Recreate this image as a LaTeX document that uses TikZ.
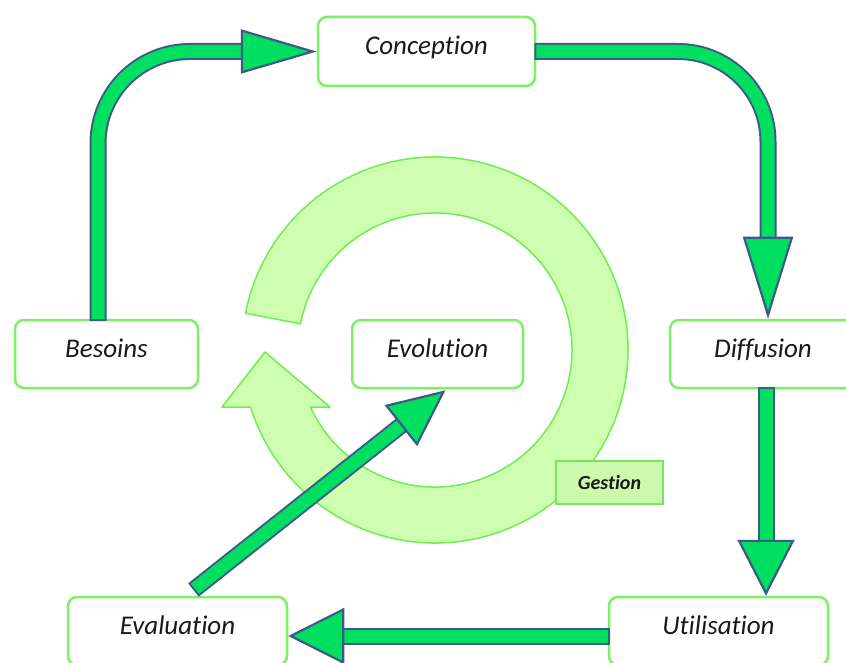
\documentclass[tikz,border=0pt]{standalone}
\usepackage{fontspec}
\setmainfont{Carlito}[Ligatures=NoCommon]
\usetikzlibrary{arrows.meta,calc}
\definecolor{arrowgreen}{RGB}{0,224,96}
\definecolor{arrowedge}{RGB}{62,90,138}
\definecolor{boxedge}{RGB}{125,240,100}
\definecolor{ringfill}{RGB}{206,255,176}
\definecolor{ringedge}{RGB}{110,238,80}
\definecolor{gestfill}{RGB}{204,250,172}
\definecolor{gestedge}{RGB}{120,228,100}
\definecolor{txt}{RGB}{25,25,25}
\begin{document}
\begin{tikzpicture}[x=1pt,y=1pt,
  stagebox/.style={draw=boxedge, line width=2.5pt, rounded corners=9pt, fill=white,
    minimum height=68pt, text=txt, inner sep=0pt,
    font=\fontsize{27}{30}\selectfont\itshape, text height=19pt, text depth=12pt},
  gestbox/.style={draw=gestedge, line width=2pt, fill=gestfill, minimum width=107pt,
    minimum height=43pt, text=txt, inner sep=0pt,
    font=\fontsize{20}{22}\selectfont\bfseries\itshape},
  fat/.style={line width=13pt, draw=arrowgreen,
    preaction={draw=arrowedge, line width=17pt, -, shorten >=#1, shorten <=-2pt}},
  ringstyle/.style={draw=ringedge, fill=ringfill, line width=1.5pt, line join=round},
]
\useasboundingbox (0,0) rectangle (846,-663);
\fill[white] (0,0) rectangle (846,-663);

% circular management arrow
\path[ringstyle]
  ($(435,-350)+(169:193pt)$) arc[start angle=169, end angle=-162.8, radius=193pt]
  -- (222,-407) -- (265,-352) -- (330,-407)
  -- ($(435,-350)+(-155.4:137pt)$) arc[start angle=-155.4, end angle=169, radius=137pt]
  -- cycle;

% stage boxes
\node[stagebox, minimum width=217pt, minimum height=69pt] (conc) at (426.5,-51.5) {Conception};
\node[stagebox, minimum width=183pt] (bes) at (106.5,-354) {Besoins};
\node[stagebox, minimum width=171pt] (evo) at (437.5,-354) {Evolution};
\node[stagebox, minimum width=186pt] (diff) at (763,-354) {Diffusion};
\node[stagebox, minimum width=219pt] (util) at (718.5,-631) {Utilisation};
\node[stagebox, minimum width=219pt] (eval) at (177.5,-631) {Evaluation};
\node[gestbox] (gest) at (609.5,-482.5) {Gestion};

% connectors
\coordinate (b1) at ($(bes.north)+(-8.5,0)$);
\draw[fat=70pt, rounded corners=92pt,
  -{Triangle[length=76pt,width=44pt,line width=2.2pt,fill=arrowgreen,color=arrowedge]}]
  (b1) |- (conc.west);

\coordinate (d1) at ($(diff.north)+(5,0)$);
\draw[fat=76pt, rounded corners=90pt,
  -{Triangle[length=82pt,width=50pt,line width=2.2pt,fill=arrowgreen,color=arrowedge]}]
  (conc.east) -| (d1);

\coordinate (d2) at ($(diff.south)+(3,0)$);
\draw[fat=50pt,
  -{Triangle[length=56pt,width=57pt,line width=2.2pt,fill=arrowgreen,color=arrowedge]}]
  (d2) -- (d2 |- util.north);

\coordinate (u1) at ($(util.west)+(0,-5)$);
\coordinate (e1) at ($(eval.east)+(0,-5)$);
\draw[fat=50pt,
  -{Triangle[length=56pt,width=56pt,line width=2.2pt,fill=arrowgreen,color=arrowedge]}]
  (u1) -- (e1);

\coordinate (e2) at ($(eval.north)+(17.5,7)$);
\coordinate (v1) at ($(evo.south)+(8,-1)$);
\draw[fat=50pt,
  -{Triangle[length=57pt,width=52pt,line width=2.2pt,fill=arrowgreen,color=arrowedge]}]
  (e2) -- (v1);
\end{tikzpicture}
\end{document}
